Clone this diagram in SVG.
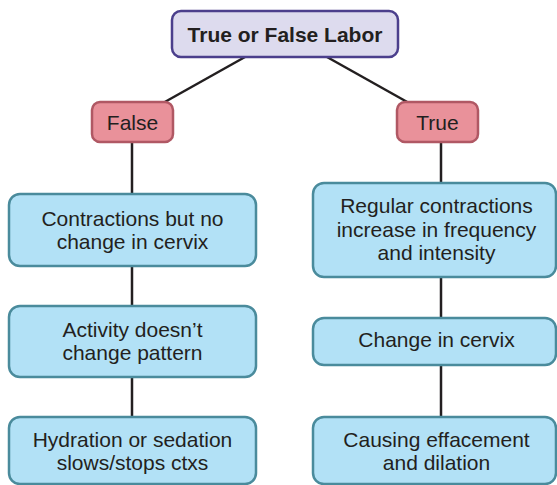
<svg xmlns="http://www.w3.org/2000/svg" width="557" height="485" viewBox="0 0 557 485">
<style>
.t{font-family:"Liberation Sans",Arial,Helvetica,sans-serif;font-size:21px;fill:#231f20;text-anchor:middle}
.b{font-weight:bold;font-size:21px}
.root{fill:#dddbee;stroke:#4b3f8c;stroke-width:2.5}
.tf{fill:#e9919a;stroke:#b05864;stroke-width:2.5}
.blue{fill:#b2e1f6;stroke:#4a8b9c;stroke-width:2.5}
.c{stroke:#231f20;stroke-width:2.5;fill:none}
</style>
<rect width="557" height="485" fill="#ffffff"/>
<g id="connectors">
<line class="c" x1="245" y1="57" x2="163" y2="103"/>
<line class="c" x1="327" y1="57" x2="409" y2="103"/>
<line class="c" x1="132" y1="142" x2="132" y2="194"/>
<line class="c" x1="132" y1="266" x2="132" y2="306"/>
<line class="c" x1="132" y1="377" x2="132" y2="417"/>
<line class="c" x1="441" y1="142" x2="441" y2="183"/>
<line class="c" x1="441" y1="277" x2="441" y2="318"/>
<line class="c" x1="441" y1="365" x2="441" y2="417"/>
</g>
<g id="root">
<rect class="root" x="172" y="11" width="226" height="46" rx="9"/>
<text class="t b" x="285" y="41.5">True or False Labor</text>
</g>
<g id="false">
<rect class="tf" x="92" y="102" width="81" height="40" rx="8"/>
<text class="t" x="132.5" y="129.5">False</text>
</g>
<g id="true">
<rect class="tf" x="397" y="102" width="81" height="40" rx="8"/>
<text class="t" x="437.5" y="129.5">True</text>
</g>
<g id="f1">
<rect class="blue" x="9" y="194" width="247" height="72" rx="11"/>
<text class="t" x="132.5" y="225.5">Contractions but no</text>
<text class="t" x="132.5" y="248.5">change in cervix</text>
</g>
<g id="f2">
<rect class="blue" x="9" y="306" width="247" height="71" rx="11"/>
<text class="t" x="132.5" y="336.5">Activity doesn’t</text>
<text class="t" x="132.5" y="360">change pattern</text>
</g>
<g id="f3">
<rect class="blue" x="9" y="417" width="247" height="67" rx="11"/>
<text class="t" x="132.5" y="447">Hydration or sedation</text>
<text class="t" x="132.5" y="470">slows/stops ctxs</text>
</g>
<g id="t1">
<rect class="blue" x="313" y="183" width="243" height="94" rx="11"/>
<text class="t" x="436.5" y="213">Regular contractions</text>
<text class="t" x="436.5" y="236.5">increase in frequency</text>
<text class="t" x="436.5" y="260">and intensity</text>
</g>
<g id="t2">
<rect class="blue" x="313" y="318" width="243" height="47" rx="11"/>
<text class="t" x="436.5" y="347">Change in cervix</text>
</g>
<g id="t3">
<rect class="blue" x="313" y="417" width="243" height="67" rx="11"/>
<text class="t" x="436.5" y="447">Causing effacement</text>
<text class="t" x="436.5" y="470">and dilation</text>
</g>
</svg>
